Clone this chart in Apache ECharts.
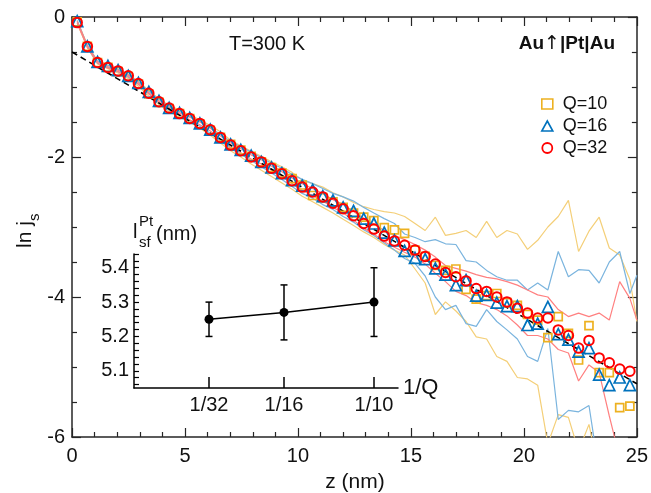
<!DOCTYPE html>
<html><head><meta charset="utf-8">
<script src="https://cdn.jsdelivr.net/npm/echarts@6/dist/echarts.min.js"></script>
<style>html,body{margin:0;padding:0;background:#fff}#c{width:651px;height:493px}</style>
</head><body><div id="c"></div>
<script>
// ---------- data ----------
const zPts = [0.23,0.68,1.13,1.59,2.04,2.49,2.94,3.40,3.85,4.30,4.76,5.21,5.66,6.12,6.57,7.02,7.47,7.93,8.38,8.83,9.29,9.74,10.19,10.65,11.10,11.55,12.00,12.46,12.91,13.36,13.82,14.27,14.72,15.18,15.63,16.08,16.53,16.99,17.44,17.89,18.35,18.80,19.25,19.71,20.16,20.61,21.06,21.52,21.97,22.42,22.88,23.33,23.78,24.24,24.69];
const zBand = [0.23,0.68,1.13,1.59,2.04,2.49,2.94,3.40,3.85,4.30,4.76,5.21,5.66,6.12,6.57,7.02,7.47,7.93,8.38,8.83,9.29,9.74,10.19,10.65,11.10,11.55,12.00,12.46,12.91,13.36,13.82,14.27,14.72,15.18,15.63,16.08,16.53,16.99,17.44,17.89,18.35,18.80,19.25,19.71,20.16,20.61,21.06,21.52,21.97,22.42,22.88,23.33,23.78,24.24,24.69,25.0];

const q10 = [-0.07,-0.42,-0.65,-0.72,-0.78,-0.85,-0.96,-1.10,-1.22,-1.31,-1.38,-1.45,-1.53,-1.62,-1.72,-1.82,-1.90,-1.99,-2.07,-2.15,-2.23,-2.31,-2.40,-2.55,-2.58,-2.64,-2.72,-2.80,-2.86,-2.91,-3.01,-3.04,-3.09,-3.33,-3.42,-3.55,-3.62,-3.60,-3.89,-4.03,-3.98,-3.95,-4.08,-4.12,-4.25,-4.33,-4.58,-4.28,-4.52,-4.90,-4.41,-5.08,-5.08,-5.58,-5.56];
const q16 = [-0.06,-0.42,-0.64,-0.70,-0.76,-0.84,-0.94,-1.07,-1.20,-1.30,-1.37,-1.44,-1.52,-1.61,-1.72,-1.82,-1.90,-1.98,-2.07,-2.15,-2.23,-2.33,-2.41,-2.47,-2.56,-2.62,-2.72,-2.77,-2.88,-2.95,-3.08,-3.19,-3.34,-3.44,-3.46,-3.59,-3.68,-3.83,-3.76,-3.98,-3.97,-4.08,-4.13,-4.13,-4.40,-4.38,-4.14,-4.53,-4.61,-4.78,-4.73,-5.11,-5.26,-5.15,-5.26];
const q32 = [-0.08,-0.42,-0.65,-0.72,-0.77,-0.84,-0.95,-1.09,-1.21,-1.30,-1.38,-1.45,-1.52,-1.61,-1.72,-1.83,-1.91,-2.00,-2.07,-2.16,-2.24,-2.34,-2.43,-2.50,-2.57,-2.66,-2.74,-2.84,-2.95,-3.03,-3.13,-3.20,-3.26,-3.33,-3.42,-3.53,-3.65,-3.71,-3.77,-3.88,-3.92,-4.00,-4.07,-4.16,-4.23,-4.30,-4.30,-4.47,-4.55,-4.73,-4.62,-4.87,-4.94,-5.03,-5.06];

// spread lines (upper / lower) of each Q
const q10Hi = [-0.05,-0.40,-0.63,-0.70,-0.75,-0.82,-0.92,-1.05,-1.17,-1.26,-1.33,-1.40,-1.47,-1.55,-1.64,-1.76,-1.84,-1.92,-1.99,-2.07,-2.14,-2.22,-2.33,-2.38,-2.43,-2.51,-2.57,-2.65,-2.71,-2.75,-2.78,-2.80,-2.85,-2.95,-3.05,-2.86,-3.12,-3.09,-3.05,-3.15,-2.92,-3.15,-3.05,-3.10,-3.32,-3.19,-3.00,-2.85,-2.62,-3.35,-3.06,-2.86,-3.30,-3.40,-3.75,-4.35];
const q10Lo = [-0.09,-0.44,-0.67,-0.74,-0.80,-0.88,-0.99,-1.13,-1.25,-1.35,-1.43,-1.50,-1.59,-1.69,-1.80,-1.91,-2.00,-2.10,-2.19,-2.28,-2.37,-2.46,-2.56,-2.64,-2.72,-2.80,-2.89,-2.98,-3.07,-3.15,-3.25,-3.33,-3.40,-3.60,-3.80,-4.25,-4.07,-4.20,-4.35,-4.57,-4.60,-4.85,-4.92,-5.15,-5.17,-5.26,-6.10,-5.68,-5.72,-6.20,-5.82,-6.50,-6.50,-6.50,-6.50,-6.50];
const q16Hi = [-0.05,-0.41,-0.63,-0.69,-0.75,-0.83,-0.93,-1.06,-1.18,-1.28,-1.35,-1.42,-1.49,-1.58,-1.68,-1.78,-1.85,-1.93,-2.01,-2.09,-2.16,-2.25,-2.32,-2.38,-2.45,-2.52,-2.57,-2.63,-2.72,-2.80,-2.88,-2.95,-3.10,-3.15,-3.21,-3.18,-3.24,-3.25,-3.48,-3.50,-3.62,-3.71,-3.76,-3.76,-3.90,-3.80,-3.90,-3.35,-3.71,-3.61,-3.62,-3.80,-3.50,-3.35,-3.95,-3.69];
const q16Lo = [-0.07,-0.43,-0.66,-0.72,-0.78,-0.86,-0.96,-1.09,-1.23,-1.33,-1.40,-1.48,-1.56,-1.66,-1.77,-1.88,-1.96,-2.05,-2.14,-2.23,-2.32,-2.42,-2.52,-2.59,-2.68,-2.75,-2.85,-2.93,-3.04,-3.12,-3.23,-3.33,-3.45,-3.52,-3.70,-4.00,-4.18,-4.12,-4.38,-4.42,-4.18,-4.35,-4.47,-4.60,-4.85,-4.92,-4.45,-5.75,-5.62,-5.64,-5.55,-6.50,-6.50,-6.50,-6.50,-6.50];
const q32Hi = [-0.06,-0.41,-0.64,-0.71,-0.76,-0.83,-0.94,-1.08,-1.20,-1.29,-1.37,-1.43,-1.50,-1.59,-1.70,-1.80,-1.88,-1.97,-2.04,-2.13,-2.21,-2.30,-2.38,-2.45,-2.52,-2.61,-2.68,-2.78,-2.88,-2.96,-3.05,-3.12,-3.18,-3.25,-3.33,-3.43,-3.55,-3.59,-3.63,-3.68,-3.72,-3.74,-3.78,-3.83,-3.90,-3.97,-4.00,-4.18,-4.28,-4.23,-4.28,-4.23,-4.33,-3.78,-4.02,-4.33];
const q32Lo = [-0.09,-0.43,-0.66,-0.73,-0.78,-0.85,-0.96,-1.10,-1.22,-1.31,-1.39,-1.47,-1.54,-1.63,-1.74,-1.86,-1.94,-2.03,-2.10,-2.19,-2.28,-2.38,-2.48,-2.55,-2.63,-2.72,-2.80,-2.90,-3.02,-3.10,-3.21,-3.29,-3.36,-3.43,-3.53,-3.66,-3.78,-3.92,-3.98,-4.08,-4.12,-4.18,-4.27,-4.40,-4.55,-4.55,-4.60,-4.75,-4.80,-5.20,-4.97,-5.08,-5.70,-6.30,-6.50,-6.50];

// exponential fit (dashed)
const fitZ = [0, 25];
const fitLn = [-0.50, -5.24];

// inset
const invQ = [1/32, 1/16, 1/10];
const invQLabels = ['1/32', '1/16', '1/10'];
const lsf = [5.25, 5.27, 5.30];
const lsfErr = [0.05, 0.08, 0.10];
const insetYLabels = [5.1, 5.2, 5.3, 5.4];
const insetYTicks = [5.06,5.08,5.10,5.12,5.14,5.16,5.18,5.20,5.22,5.24,5.26,5.28,5.30,5.32,5.34,5.36,5.38,5.40,5.42,5.44];

// ---------- chart ----------
const FONT = '"Liberation Sans", Arial, Helvetica, sans-serif';
const AX = '#262626';
const C10 = '#EDB120', C16 = '#0072BD', C32 = '#FF0000';
const L10 = '#F4CF78', L16 = '#7AB4DE', L32 = '#FF8080';
const pairs = (xs, ys) => xs.map((x, i) => [x, ys[i]]);

const chart = echarts.init(document.getElementById('c'), null, {renderer: 'canvas'});

function mainX(pos, labels) {
  return {
    type: 'value', gridIndex: 0, position: pos, min: 0, max: 25, interval: 5,
    axisLine: {show: true, onZero: false, lineStyle: {color: AX, width: 1.5}},
    axisTick: {show: true, inside: true, length: 9, lineStyle: {color: AX, width: 1.2}},
    minorTick: {show: true, splitNumber: 5, length: 5, lineStyle: {color: AX, width: 1.2}},
    axisLabel: {show: labels, fontFamily: FONT, fontSize: 20, color: '#111', margin: 9},
    splitLine: {show: false}, minorSplitLine: {show: false}
  };
}
function mainY(pos, labels) {
  return {
    type: 'value', gridIndex: 0, position: pos, min: -6, max: 0, interval: 2,
    axisLine: {show: true, onZero: false, lineStyle: {color: AX, width: 1.5}},
    axisTick: {show: true, inside: true, length: 9, lineStyle: {color: AX, width: 1.2}},
    minorTick: {show: true, splitNumber: 4, length: 5, lineStyle: {color: AX, width: 1.2}},
    axisLabel: {show: labels, fontFamily: FONT, fontSize: 20, color: '#111', margin: 7},
    splitLine: {show: false}, minorSplitLine: {show: false}
  };
}
function band(name, ys, color) {
  return {type: 'line', name: name, xAxisIndex: 0, yAxisIndex: 0, data: pairs(zBand, ys),
    symbol: 'none', showSymbol: false, silent: true, clip: true, z: 1,
    lineStyle: {color: color, width: 1.2}};
}
function pts(name, ys, symbol, size, color, bw) {
  return {type: 'scatter', name: name, xAxisIndex: 0, yAxisIndex: 0, data: pairs(zPts, ys),
    symbol: symbol, symbolSize: size, z: 3, clip: false,
    itemStyle: {color: 'rgba(0,0,0,0)', borderColor: color, borderWidth: bw, opacity: 1}};
}

const option = {
  animation: false,
  backgroundColor: '#fff',
  grid: [
    {left: 72, top: 17, right: 13, bottom: 56, containLabel: false},
    {left: 134, top: 254, right: 253, bottom: 105, containLabel: false}
  ],
  xAxis: [
    mainX('bottom', true),
    mainX('top', false),
    {
      type: 'value', gridIndex: 1, position: 'bottom', min: 0, max: 0.11,
      axisLine: {show: true, onZero: false, lineStyle: {color: '#000', width: 1.5}},
      axisTick: {show: true, inside: true, length: 11, customValues: invQ, lineStyle: {color: '#000', width: 1.5}},
      axisLabel: {show: true, customValues: invQ, fontFamily: FONT, fontSize: 20, color: '#111', margin: 7,
        formatter: v => { const k = invQ.findIndex(q => Math.abs(q - v) < 1e-6); return k >= 0 ? invQLabels[k] : ''; }},
      splitLine: {show: false},
      name: '1/Q', nameLocation: 'end', nameGap: 5,
      nameTextStyle: {fontFamily: FONT, fontSize: 22, color: '#111', verticalAlign: 'middle'}
    }
  ],
  yAxis: [
    mainY('left', true),
    mainY('right', false),
    {
      type: 'value', gridIndex: 1, position: 'left', min: 5.05, max: 5.44,
      axisLine: {show: true, onZero: false, lineStyle: {color: '#000', width: 1.5}},
      axisTick: {show: true, inside: true, length: 5, customValues: insetYTicks, lineStyle: {color: '#000', width: 1.2}},
      axisLabel: {show: true, customValues: insetYLabels, fontFamily: FONT, fontSize: 20, color: '#111', margin: 5,
        formatter: v => v.toFixed(1)},
      splitLine: {show: false}
    }
  ],
  legend: {
    orient: 'vertical', left: 536, top: 90, itemGap: 4, itemWidth: 11, itemHeight: 10,
    textStyle: {fontFamily: FONT, fontSize: 18, color: '#111', padding: [0, 0, 0, 5]},
    selectedMode: false,
    data: [
      {name: 'Q=10', icon: 'rect', itemStyle: {color: 'rgba(0,0,0,0)', borderColor: C10, borderWidth: 1.6}},
      {name: 'Q=16', icon: 'triangle', itemStyle: {color: 'rgba(0,0,0,0)', borderColor: C16, borderWidth: 1.6}},
      {name: 'Q=32', icon: 'circle', itemStyle: {color: 'rgba(0,0,0,0)', borderColor: C32, borderWidth: 1.8}}
    ]
  },
  graphic: [
    {type: 'text', x: 267, y: 44, style: {text: 'T=300 K', font: '20px ' + FONT, fill: '#111', align: 'center', verticalAlign: 'middle'}},
    {type: 'text', x: 615, y: 44, style: {
      text: '{a|Au}{b|\u2191}{a||Pt|Au}', align: 'right', verticalAlign: 'middle',
      rich: {
        a: {fontFamily: FONT, fontWeight: 'bold', fontSize: 19, fill: '#111', color: '#111'},
        b: {fontFamily: '"DejaVu Sans", sans-serif', fontWeight: 'normal', fontSize: 19, fill: '#111', color: '#111'}
      }}},
    {type: 'text', x: 36, y: 248, rotation: Math.PI / 2, style: {text: 'ln j', font: '21px ' + FONT, fill: '#111', align: 'left', verticalAlign: 'bottom'}},
    {type: 'text', x: 42, y: 221, rotation: Math.PI / 2, style: {text: 's', font: '15px ' + FONT, fill: '#111', align: 'left', verticalAlign: 'bottom'}},
    {type: 'text', x: 355, y: 482, style: {text: 'z (nm)', font: '21px ' + FONT, fill: '#111', align: 'center', verticalAlign: 'middle'}},
    {type: 'text', x: 133, y: 232, style: {text: 'l', font: '20px ' + FONT, fill: '#111', align: 'left', verticalAlign: 'middle'}},
    {type: 'text', x: 139, y: 222, style: {text: 'Pt', font: '15px ' + FONT, fill: '#111', align: 'left', verticalAlign: 'middle'}},
    {type: 'text', x: 139, y: 243, style: {text: 'sf', font: '15px ' + FONT, fill: '#111', align: 'left', verticalAlign: 'middle'}},
    {type: 'text', x: 156, y: 234, style: {text: '(nm)', font: '20px ' + FONT, fill: '#111', align: 'left', verticalAlign: 'middle'}}
  ],
  series: [
    band('b10hi', q10Hi, L10), band('b10lo', q10Lo, L10),
    band('b16hi', q16Hi, L16), band('b16lo', q16Lo, L16),
    band('b32hi', q32Hi, L32), band('b32lo', q32Lo, L32),
    {type: 'line', name: 'fit', xAxisIndex: 0, yAxisIndex: 0, data: pairs(fitZ, fitLn), symbol: 'none', silent: true, z: 2,
      lineStyle: {color: '#000', width: 1.6, type: [6, 4]}},
    pts('Q=10', q10, 'rect', 8, C10, 1.7),
    pts('Q=16', q16, 'triangle', 11, C16, 1.7),
    pts('Q=32', q32, 'circle', 9.5, C32, 2),
    {type: 'custom', name: 'err', xAxisIndex: 2, yAxisIndex: 2, silent: true, z: 3,
      data: invQ.map((q, i) => [q, lsf[i] - lsfErr[i], lsf[i] + lsfErr[i]]),
      encode: {x: 0, y: [1, 2]},
      renderItem: function (params, api) {
        const x = api.value(0);
        const lo = api.coord([x, api.value(1)]);
        const hi = api.coord([x, api.value(2)]);
        const w = 3.5, st = {stroke: '#000', lineWidth: 1.5};
        return {type: 'group', children: [
          {type: 'line', shape: {x1: lo[0], y1: lo[1], x2: hi[0], y2: hi[1]}, style: st},
          {type: 'line', shape: {x1: lo[0] - w, y1: lo[1], x2: lo[0] + w, y2: lo[1]}, style: st},
          {type: 'line', shape: {x1: hi[0] - w, y1: hi[1], x2: hi[0] + w, y2: hi[1]}, style: st}
        ]};
      }},
    {type: 'line', name: 'lsf', xAxisIndex: 2, yAxisIndex: 2, data: pairs(invQ, lsf), z: 4,
      symbol: 'circle', symbolSize: 9, showSymbol: true,
      itemStyle: {color: '#000'}, lineStyle: {color: '#000', width: 1.5}}
  ]
};
chart.setOption(option);
</script>
</body></html>
